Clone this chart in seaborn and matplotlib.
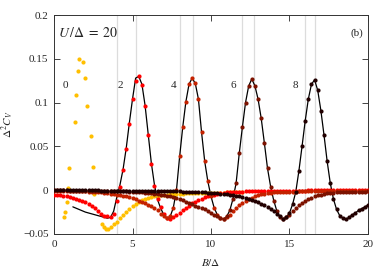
import matplotlib
matplotlib.use("Agg")
import matplotlib.pyplot as plt
import seaborn as sns

# field grid shared by the n = 2 ... 8 series
field = [0.0, 0.2, 0.4, 0.6, 0.8, 1.0, 1.2, 1.4, 1.6, 1.8,
         2.0, 2.2, 2.4, 2.6, 2.8, 3.0, 3.2, 3.4, 3.6, 3.8,
         4.0, 4.2, 4.4, 4.6, 4.8, 5.0, 5.2, 5.4, 5.6, 5.8,
         6.0, 6.2, 6.4, 6.6, 6.8, 7.0, 7.2, 7.4, 7.6, 7.8,
         8.0, 8.2, 8.4, 8.6, 8.8, 9.0, 9.2, 9.4, 9.6, 9.8,
         10.0, 10.2, 10.4, 10.6, 10.8, 11.0, 11.2, 11.4, 11.6, 11.8,
         12.0, 12.2, 12.4, 12.6, 12.8, 13.0, 13.2, 13.4, 13.6, 13.8,
         14.0, 14.2, 14.4, 14.6, 14.8, 15.0, 15.2, 15.4, 15.6, 15.8,
         16.0, 16.2, 16.4, 16.6, 16.8, 17.0, 17.2, 17.4, 17.6, 17.8,
         18.0, 18.2, 18.4, 18.6, 18.8, 19.0, 19.2, 19.4, 19.6, 19.8,
         20.0]

cv_n2 = [-0.005, -0.0055, -0.006, -0.0065, -0.007, -0.008, -0.009, -0.010, -0.011, -0.0125,
         -0.014, -0.016, -0.018, -0.0205, -0.0235, -0.027, -0.029, -0.030, -0.031, -0.027,
         -0.012, 0.004, 0.023, 0.047, 0.076, 0.104, 0.125, 0.130, 0.120, 0.096,
         0.063, 0.030, 0.005, -0.010, -0.019, -0.027, -0.032, -0.033, -0.031, -0.028,
         -0.026, -0.023, -0.020, -0.018, -0.015, -0.013, -0.011, -0.0095, -0.008, -0.007,
         -0.006, -0.005, -0.0042, -0.0035, -0.003, -0.0025, -0.0022, -0.002, -0.0018, -0.0016,
         -0.0015, -0.0014, -0.0013, -0.0012, -0.0011, -0.001, -0.0009, -0.0008, -0.0008, -0.0007,
         -0.0007, -0.0006, -0.0006, -0.0006, -0.0005, -0.0005, -0.0005, -0.0004, -0.0004, -0.0004,
         -0.0004, -0.0003, -0.0003, -0.0003, -0.0003, -0.0003, -0.0002, -0.0002, -0.0002, -0.0002,
         -0.0002, -0.0002, -0.0002, -0.0001, -0.0001, -0.0001, -0.0001, -0.0001, -0.0001, -0.0001,
         0.0]

cv_n4 = [-0.0005, -0.0005, -0.0006, -0.0006, -0.0007, -0.0007, -0.0008, -0.0009, -0.001, -0.0011,
         -0.0013, -0.0015, -0.0017, -0.002, -0.0023, -0.0026, -0.003, -0.0034, -0.0038, -0.0043,
         -0.0049, -0.0055, -0.0062, -0.007, -0.008, -0.009, -0.0105, -0.012, -0.0135, -0.015,
         -0.0165, -0.018, -0.0205, -0.023, -0.027, -0.030, -0.032, -0.030, -0.020, 0.000,
         0.039, 0.072, 0.101, 0.121, 0.128, 0.122, 0.104, 0.066, 0.033, 0.010,
         -0.007, -0.020, -0.028, -0.032, -0.033, -0.031, -0.028, -0.024, -0.020, -0.017,
         -0.0145, -0.012, -0.010, -0.0085, -0.007, -0.0058, -0.0048, -0.004, -0.0034, -0.003,
         -0.0026, -0.0023, -0.002, -0.0019, -0.0018, -0.0017, -0.0016, -0.0015, -0.0014, -0.0013,
         -0.0013, -0.0012, -0.0012, -0.0011, -0.0011, -0.001, -0.001, -0.001, -0.0009, -0.0009,
         -0.0009, -0.0009, -0.0008, -0.0008, -0.0008, -0.0008, -0.0008, -0.0007, -0.0007, -0.0007,
         -0.0007]

cv_n6 = [-0.0003, -0.0003, -0.0003, -0.0003, -0.0003, -0.0004, -0.0004, -0.0004, -0.0004, -0.0005,
         -0.0005, -0.0005, -0.0006, -0.0006, -0.0007, -0.0007, -0.0008, -0.0008, -0.0009, -0.001,
         -0.001, -0.0011, -0.0012, -0.0013, -0.0015, -0.0017, -0.0019, -0.0021, -0.0024, -0.0027,
         -0.003, -0.0034, -0.0038, -0.0043, -0.0049, -0.0055, -0.0062, -0.007, -0.008, -0.009,
         -0.0102, -0.0115, -0.013, -0.0145, -0.016, -0.0175, -0.019, -0.0205, -0.022, -0.024,
         -0.026, -0.028, -0.030, -0.032, -0.033, -0.030, -0.023, -0.010, 0.008, 0.042,
         0.072, 0.100, 0.119, 0.127, 0.119, 0.104, 0.082, 0.054, 0.025, 0.004,
         -0.012, -0.024, -0.031, -0.033, -0.031, -0.028, -0.024, -0.020, -0.017, -0.0145,
         -0.012, -0.010, -0.0085, -0.007, -0.006, -0.005, -0.0043, -0.0037, -0.0032, -0.0028,
         -0.0025, -0.0023, -0.0021, -0.002, -0.0019, -0.0018, -0.0017, -0.0016, -0.0015, -0.0015,
         -0.0014]

cv_n8 = [-0.0002, -0.0002, -0.0002, -0.0002, -0.0002, -0.0002, -0.0002, -0.0003, -0.0003, -0.0003,
         -0.0003, -0.0003, -0.0003, -0.0003, -0.0003, -0.0004, -0.0004, -0.0004, -0.0004, -0.0004,
         -0.0004, -0.0005, -0.0005, -0.0005, -0.0005, -0.0006, -0.0006, -0.0006, -0.0007, -0.0007,
         -0.0007, -0.0008, -0.0008, -0.0009, -0.0009, -0.001, -0.001, -0.0011, -0.0012, -0.0013,
         -0.0014, -0.0015, -0.0016, -0.0017, -0.0018, -0.002, -0.0022, -0.0024, -0.0026, -0.0028,
         -0.003, -0.0033, -0.0036, -0.004, -0.0044, -0.0048, -0.0052, -0.0057, -0.0063, -0.007,
         -0.0078, -0.0088, -0.010, -0.0112, -0.0125, -0.014, -0.0155, -0.017, -0.019, -0.0215,
         -0.024, -0.027, -0.030, -0.033, -0.031, -0.026, -0.016, -0.002, 0.022, 0.050,
         0.079, 0.104, 0.121, 0.126, 0.114, 0.091, 0.063, 0.033, 0.008, -0.010,
         -0.022, -0.029, -0.032, -0.033, -0.031, -0.028, -0.026, -0.023, -0.021, -0.019,
         -0.017]

# n = 0 is sampled irregularly
gold_b = [0.64, 0.70, 0.80, 0.90, 0.98, 1.31, 1.39, 1.51, 1.61, 1.87,
          1.96, 2.08, 2.35, 2.46, 2.55, 3.08, 3.2, 3.3, 3.45, 3.6,
          3.8, 4.0, 4.2, 4.4, 4.6, 4.8, 5.0, 5.2, 5.4, 5.6,
          5.8, 6.0, 6.2, 6.4, 6.6, 6.8, 7.0, 7.2, 7.4, 7.6,
          7.8, 8.0, 8.2, 8.4, 8.6, 8.8, 9.0, 9.2, 9.4, 9.6,
          9.8, 10.0, 10.2, 10.4, 10.6, 10.8, 11.0, 11.2, 11.4, 11.6,
          11.8, 12.0]
cv_n0 = [-0.031, -0.0245, -0.013, 0.003, 0.025, 0.0775, 0.109, 0.136, 0.150, 0.146,
         0.128, 0.096, 0.062, 0.027, -0.004, -0.039, -0.0425, -0.044, -0.044, -0.042,
         -0.039, -0.036, -0.032, -0.028, -0.0245, -0.021, -0.018, -0.0155, -0.013, -0.011,
         -0.0095, -0.0085, -0.0075, -0.0068, -0.0062, -0.0057, -0.0053, -0.005, -0.0047, -0.0044,
         -0.0042, -0.004, -0.0038, -0.0036, -0.0035, -0.0034, -0.0033, -0.0032, -0.0031, -0.003,
         -0.003, -0.0029, -0.0028, -0.0028, -0.0027, -0.0027, -0.0026, -0.0026, -0.0025, -0.0025,
         -0.0025, -0.0024]

# solid theory curve, from B = 1.2 on
theory_b = field[6:]
theory_c = [-0.019, -0.0205, -0.022, -0.0235, -0.025, -0.026, -0.027, -0.028, -0.029, -0.030,
            -0.031, -0.032, -0.031, -0.024, -0.008, 0.006, 0.024, 0.048, 0.077, 0.104,
            0.128, 0.130, 0.121, 0.097, 0.064, 0.031, 0.006, -0.011, -0.021, -0.028,
            -0.032, -0.030, -0.020, 0.000, 0.038, 0.072, 0.101, 0.121, 0.128, 0.122,
            0.104, 0.066, 0.033, 0.010, -0.007, -0.020, -0.028, -0.032, -0.033, -0.030,
            -0.023, -0.010, 0.008, 0.042, 0.072, 0.100, 0.119, 0.127, 0.119, 0.104,
            0.082, 0.054, 0.025, 0.004, -0.012, -0.024, -0.031, -0.033, -0.031, -0.026,
            -0.016, -0.002, 0.022, 0.050, 0.079, 0.104, 0.121, 0.126, 0.114, 0.091,
            0.063, 0.033, 0.008, -0.010, -0.022, -0.029, -0.032, -0.033, -0.031, -0.028,
            -0.026, -0.023, -0.021, -0.019, -0.017]

level_b = [4.0, 5.22, 8.0, 8.83, 12.0, 12.72, 16.0, 16.6]
peak_labels = ["0", "2", "4", "6", "8"]
label_b = [0.7, 4.2, 7.6, 11.4, 15.4]

x_ticks = [0, 5, 10, 15, 20]
y_ticks = [-0.05, 0, 0.05, 0.1, 0.15, 0.2]
y_tick_labels = ["\u22120.05", "0", "0.05", "0.1", "0.15", "0.2"]

sns.set_style("ticks")
plt.rcParams["font.family"] = ["Liberation Serif", "DejaVu Serif"]
plt.rcParams["mathtext.fontset"] = "stix"
plt.rcParams["font.size"] = 8

fig = plt.figure(figsize=(3.9, 2.74), dpi=100)
ax = fig.add_axes([0.1385, 0.146, 0.805, 0.799])

for b in level_b:
    ax.axvline(b, color="#dcdcdc", lw=0.9, zorder=0)

sns.lineplot(x=theory_b, y=theory_c, color="black", lw=0.9, sort=False,
             estimator=None, ax=ax, zorder=2)

series = [(gold_b, cv_n0, "#ffbf00"),
          (field, cv_n2, "#ff0000"),
          (field, cv_n4, "#c42200"),
          (field, cv_n6, "#7c1200"),
          (field, cv_n8, "#220000")]
for xs, ys, col in series:
    sns.scatterplot(x=xs, y=ys, color=col, s=9, linewidth=0, ax=ax, zorder=3)

for lab, b in zip(peak_labels, label_b):
    ax.text(b, 0.12, lab, ha="center", va="center", fontsize=8)

ax.text(0.25, 0.179, r"$U\,/\Delta\;=\;20$", fontsize=10, va="center")
ax.text(19.3, 0.179, "(b)", ha="center", va="center", fontsize=8)

ax.set_xlim(0, 20)
ax.set_ylim(-0.05, 0.2)
ax.set_xticks(x_ticks)
ax.set_yticks(y_ticks)
ax.set_yticklabels(y_tick_labels)
ax.tick_params(direction="in", top=True, right=True, length=4, width=0.6,
               labelsize=8, pad=4)
for sp in ax.spines.values():
    sp.set_linewidth(0.7)
    sp.set_color("#333333")

ax.set_xlabel(r"$B/\Delta$", fontsize=8, labelpad=6)
ax.set_ylabel(r"$\Delta^2 C_V$", fontsize=8, labelpad=5)

fig.savefig("out.png", dpi=100)
